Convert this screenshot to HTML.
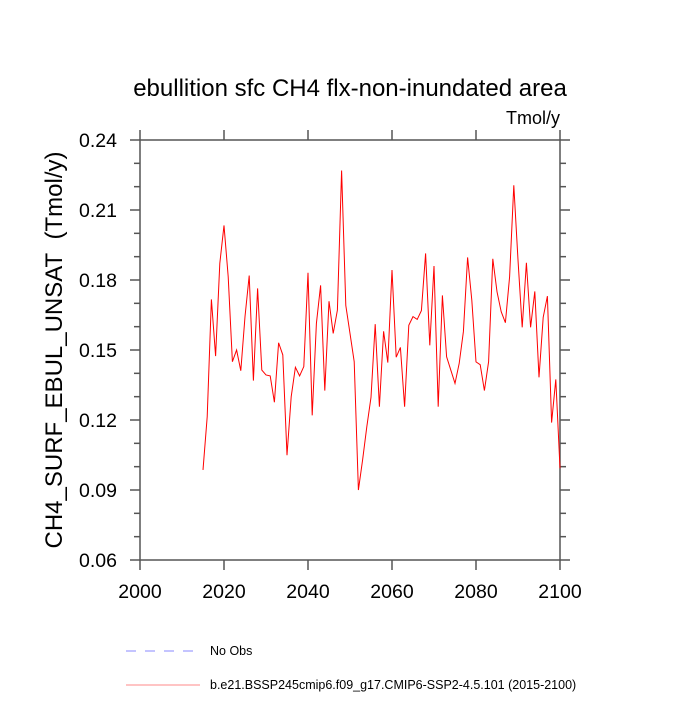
<!DOCTYPE html>
<html><head><meta charset="utf-8"><style>
body{margin:0;background:#fff;}
svg text{font-family:"Liberation Sans",Arial,sans-serif;fill:#000;}
</style></head><body>
<svg id="chart" width="700" height="700" viewBox="0 0 700 700">
<text x="350" y="96" text-anchor="middle" font-size="24">ebullition sfc CH4 flx-non-inundated area</text>
<text x="560" y="124" text-anchor="end" font-size="18">Tmol/y</text>
<text transform="translate(62,350) rotate(-90)" text-anchor="middle" font-size="24">CH4_SURF_EBUL_UNSAT&#160;&#160;(Tmol/y)</text>
<g id="axes" stroke="#555" stroke-width="1.5" fill="none"></g>
<g id="labels" font-size="19.5"></g>
<polyline id="series" fill="none" stroke="#ff0000" stroke-width="1"></polyline>
<line x1="126" y1="651" x2="200" y2="651" stroke="#8888ff" stroke-width="1" stroke-dasharray="10,9"/>
<text x="210" y="655" font-size="12.5">No Obs</text>
<line x1="126" y1="685" x2="200" y2="685" stroke="#ff8888" stroke-width="1"/>
<text x="210" y="689" font-size="12.5">b.e21.BSSP245cmip6.f09_g17.CMIP6-SSP2-4.5.101 (2015-2100)</text>
</svg>
<script>
const startYear = 2015;
const values = [0.0986,0.1214,0.1717,0.1474,0.1871,0.2034,0.1814,0.145,0.15,0.1411,0.1643,0.1819,0.1369,0.1764,0.1414,0.1393,0.1389,0.1276,0.1531,0.1479,0.1049,0.13,0.1426,0.1389,0.1429,0.1831,0.122,0.1614,0.1777,0.1326,0.1709,0.1571,0.1671,0.2269,0.1691,0.1571,0.145,0.09,0.1029,0.1171,0.1297,0.1611,0.1257,0.158,0.1446,0.1843,0.1469,0.1511,0.1257,0.1606,0.1643,0.1631,0.1669,0.1914,0.152,0.186,0.1257,0.1734,0.1471,0.1414,0.1357,0.1443,0.1579,0.1897,0.1714,0.1449,0.1437,0.1326,0.145,0.1891,0.175,0.1664,0.1617,0.1814,0.2206,0.1886,0.1597,0.1874,0.1597,0.1751,0.1383,0.164,0.1731,0.1189,0.1374,0.0993];
const xTicks = [2000,2020,2040,2060,2080,2100];
const yTicks = [0.06,0.09,0.12,0.15,0.18,0.21,0.24];
const yTickLabels = ["0.06","0.09","0.12","0.15","0.18","0.21","0.24"];
const X0=140,X1=560,Y0=560,Y1=140;
const xMin=2000,xMax=2100,yMin=0.06,yMax=0.24;
const xs=v=>X0+(v-xMin)/(xMax-xMin)*(X1-X0);
const ys=v=>Y0-(v-yMin)/(yMax-yMin)*(Y0-Y1);
const NS="http://www.w3.org/2000/svg";
const ax=document.getElementById('axes'), lb=document.getElementById('labels');
function ln(x1,y1,x2,y2,name){const l=document.createElementNS(NS,'line');l.setAttribute('x1',x1);l.setAttribute('y1',y1);l.setAttribute('x2',x2);l.setAttribute('y2',y2);


ax.appendChild(l);}
const fr=document.createElementNS(NS,'rect');fr.setAttribute('x',X0);fr.setAttribute('y',Y1);fr.setAttribute('width',X1-X0);fr.setAttribute('height',Y0-Y1);


ax.appendChild(fr);
xTicks.forEach(t=>{const x=xs(t);ln(x,Y0,x,Y0+10,'x-tick');ln(x,Y1,x,Y1-10,'x-tick-top');
const tx=document.createElementNS(NS,'text');tx.setAttribute('x',x);tx.setAttribute('y',Y0+38);tx.setAttribute('text-anchor','middle');tx.textContent=t;


lb.appendChild(tx);});
yTicks.forEach((t,i)=>{const y=ys(t);ln(X0,y,X0-10,y,'y-tick');ln(X1,y,X1+10,y,'y-tick-right');
const tx=document.createElementNS(NS,'text');tx.setAttribute('x',X0-23);tx.setAttribute('y',y+7);tx.setAttribute('text-anchor','end');tx.textContent=yTickLabels[i];


lb.appendChild(tx);
if(i<yTicks.length-1){for(let k=1;k<3;k++){const ym=ys(t+k*0.01);ln(X0,ym,X0-6,ym,'y-minor-tick');ln(X1,ym,X1+6,ym,'y-minor-tick-right');}}});
document.getElementById('series').setAttribute('points',values.map((v,i)=>xs(startYear+i)+','+ys(v)).join(' '));
</script>
</body></html>
